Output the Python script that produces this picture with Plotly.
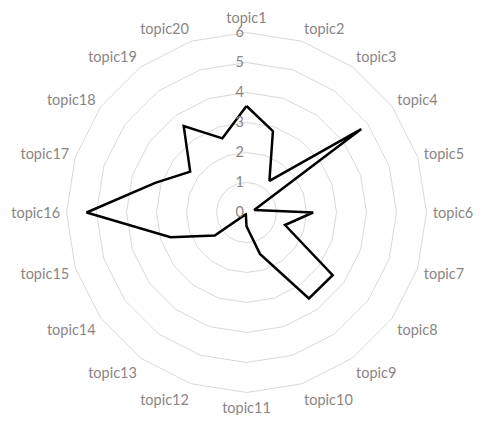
import plotly.graph_objects as go

topics = [f"topic{i}" for i in range(1, 21)]
values = [3.55, 2.85, 1.3, 4.73, 0.27, 2.22, 1.35, 3.55, 3.54, 1.45,
          0.46, 0.07, 0.1, 1.31, 2.66, 5.33, 3.2, 2.32, 3.56, 2.6]
radial_ticks = [0, 1, 2, 3, 4, 5, 6]

fig = go.Figure()
fig.add_trace(go.Scatterpolar(
    r=values + [values[0]],
    theta=topics + [topics[0]],
    mode="lines",
    line=dict(color="#000000", width=2.5),
    showlegend=False,
    hoverinfo="skip",
))

# page body has an 8px default margin on every side; size the figure to fit without scrollbars
W, H = 470, 407
cx, cy, R = 238.5, 204.5, 180
fig.update_layout(
    width=W, height=H,
    margin=dict(l=0, r=0, t=0, b=0, autoexpand=False),
    paper_bgcolor="white",
    font=dict(family="Lato", size=14.5, color="#8a8585"),
    polar=dict(
        domain=dict(x=[(cx - R) / W, (cx + R) / W],
                    y=[(H - cy - R) / H, (H - cy + R) / H]),
        bgcolor="white",
        gridshape="linear",
        radialaxis=dict(
            range=[0, 6], tickvals=radial_ticks, angle=90, tickangle=90,
            showline=False, ticks="", gridcolor="#d9d9d9", gridwidth=1,
            tickfont=dict(size=14.5, color="#8a8585"), side="counterclockwise",
        ),
        angularaxis=dict(
            direction="clockwise", rotation=90,
            showgrid=False, showline=True, linecolor="#d9d9d9", linewidth=1,
            ticks="outside", ticklen=3, tickcolor="rgba(0,0,0,0)",
            tickfont=dict(size=14.5, color="#8a8585"),
        ),
    ),
)
fig.write_html("out.html")
